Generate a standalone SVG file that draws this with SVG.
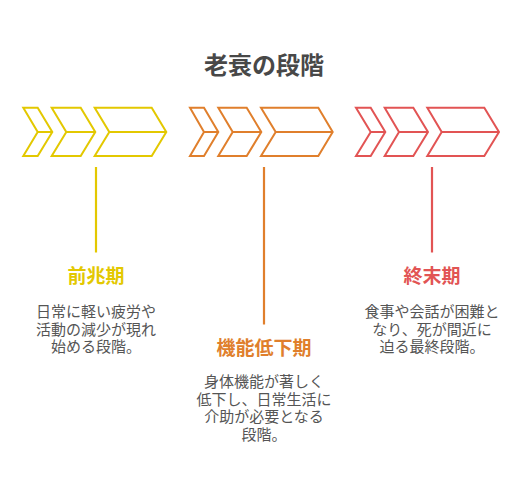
<svg xmlns="http://www.w3.org/2000/svg" width="528" height="492" viewBox="0 0 528 492">
<style>
.t{font-family:"Liberation Sans","Noto Sans CJK JP",sans-serif;text-anchor:middle}
.title{font-size:24px;font-weight:bold;fill:#484848}
.h{font-size:19px;font-weight:bold}
.b{font-size:15px;fill:#555555}
.ch{fill:none;stroke-width:2;stroke-linejoin:miter}
.y{stroke:#E3C800}.o{stroke:#E07F2C}.r{stroke:#E25454}
.yt{fill:#E3C800}.ot{fill:#E07F2C}.rt{fill:#E25454}
.ln{stroke-width:2.2}
</style>
<rect width="528" height="492" fill="#ffffff"/>
<text class="t title" x="264" y="74">老衰の段階</text>
<g id="stage1">
<g class="ch y">
<path d="M23.3,107.7H37.7L52.3,132L37.7,156H23.3L37.7,132ZM37.7,132H52.3"/>
<path d="M51.7,107.7H80.7L95.3,132L80.7,156H51.7L66.3,132ZM66.3,132H95.3"/>
<path d="M94.7,107.7H151.7L166.3,132L151.7,156H94.7L109.3,132ZM109.3,132H166.3"/>
</g>
<text class="t h yt" x="96" y="283">前兆期</text>
<text class="t b" x="96" y="317"><tspan x="96">日常に軽い疲労や</tspan><tspan x="96" dy="17.5">活動の減少が現れ</tspan><tspan x="96" dy="17.5">始める段階。</tspan></text>
</g>
<g id="stage2">
<g class="ch o">
<path d="M190,107.7H204L218.3,132L204,156H190L204,132ZM204,132H218.3"/>
<path d="M218.3,107.7H246.7L261.3,132L246.7,156H218.3L232.7,132ZM232.7,132H261.3"/>
<path d="M261,107.7H318.3L332.7,132L318.3,156H261L275.7,132ZM275.7,132H332.7"/>
</g>
<text class="t h ot" x="264" y="355">機能低下期</text>
<text class="t b" x="264" y="387"><tspan x="264">身体機能が著しく</tspan><tspan x="264" dy="17.7">低下し、日常生活に</tspan><tspan x="264" dy="17.7">介助が必要となる</tspan><tspan x="264" dy="17.7">段階。</tspan></text>
</g>
<g id="stage3">
<g class="ch r">
<path d="M356,107.7H370.7L385.3,132L370.7,156H356L370.7,132ZM370.7,132H385.3"/>
<path d="M384.7,107.7H413.3L428,132L413.3,156H384.7L399,132ZM399,132H428"/>
<path d="M427.3,107.7H484.3L499,132L484.3,156H427.3L441.7,132ZM441.7,132H499"/>
</g>
<text class="t h rt" x="432" y="283">終末期</text>
<text class="t b" x="432" y="317"><tspan x="432">食事や会話が困難と</tspan><tspan x="432" dy="17.5">なり、死が間近に</tspan><tspan x="432" dy="17.5">迫る最終段階。</tspan></text>
</g>
<g id="connectors">
<line class="ln y" x1="96" y1="167" x2="96" y2="252.5"/>
<line class="ln o" x1="264" y1="167" x2="264" y2="324.5"/>
<line class="ln r" x1="432" y1="167" x2="432" y2="252.5"/>
</g>
</svg>
